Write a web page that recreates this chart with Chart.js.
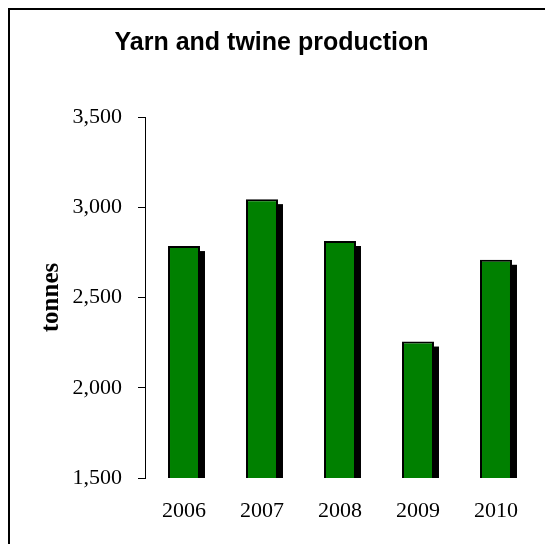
<!DOCTYPE html>
<html>
<head>
<meta charset="utf-8">
<script src="https://cdn.jsdelivr.net/npm/chart.js@4"></script>
<style>
  html, body { margin: 0; padding: 0; background: #fff; overflow: hidden; }
  #frame { position: absolute; left: 8px; top: 8px; width: 600px; height: 600px;
           border-left: 2px solid #000; border-top: 2px solid #000; }
  #wrap { position: absolute; left: 0; top: 0; width: 545px; height: 544px; }
</style>
</head>
<body>
<div id="frame"></div>
<div id="wrap"><canvas id="chart" width="545" height="544"></canvas></div>
<script>
const years = ['2006', '2007', '2008', '2009', '2010'];
const production = [2785, 3045, 2813, 2256, 2709];
const yTicks = [1500, 2000, 2500, 3000, 3500];

// black drop shadow behind each bar, taken from the bar elements themselves
const barShadow = {
  id: 'barShadow',
  beforeDatasetsDraw(chart) {
    const ctx = chart.ctx;
    const area = chart.chartArea;
    ctx.save();
    ctx.beginPath();
    ctx.rect(area.left, area.top, area.right - area.left, area.bottom - area.top);
    ctx.clip();
    ctx.fillStyle = '#000';
    chart.getDatasetMeta(0).data.forEach(bar => {
      const p = bar.getProps(['x', 'y', 'base', 'width'], true);
      ctx.fillRect(p.x - p.width / 2 + 5, p.y + 5, p.width, p.base - p.y);
    });
    ctx.restore();
  }
};

new Chart(document.getElementById('chart').getContext('2d'), {
  type: 'bar',
  data: {
    labels: years,
    datasets: [{
      label: 'Yarn and twine',
      data: production,
      backgroundColor: '#008000',
      borderColor: '#000',
      borderWidth: 2,
      borderSkipped: false,
      categoryPercentage: 1,
      barPercentage: 0.41
    }]
  },
  options: {
    responsive: false,
    animation: false,
    layout: { padding: { left: 8, right: 10, top: 0, bottom: 0 } },
    plugins: {
      legend: { display: false },
      tooltip: { enabled: false },
      title: {
        display: true,
        text: 'Yarn and twine production',
        color: '#000',
        font: { family: 'Liberation Sans', size: 25, weight: 'bold', lineHeight: 1.2 },
        padding: { top: 28, bottom: 59 }
      }
    },
    scales: {
      x: {
        grid: { display: false },
        border: { display: false },
        ticks: {
          color: '#000',
          padding: 12,
          font: { family: 'Liberation Serif', size: 22 }
        },
        afterFit(scale) { scale.height = 66; }
      },
      y: {
        min: 1500,
        max: 3500,
        afterBuildTicks(scale) { scale.ticks = yTicks.map(v => ({ value: v })); },
        grid: { drawOnChartArea: false, drawTicks: true, tickLength: 7, color: '#000' },
        border: { display: true, color: '#000', width: 1 },
        ticks: {
          color: '#000',
          padding: 16,
          font: { family: 'Liberation Serif', size: 22 },
          callback: v => v.toLocaleString('en-US')
        },
        title: {
          display: true,
          text: 'tonnes',
          color: '#000',
          font: { family: 'Liberation Serif', size: 25, weight: 'bold', lineHeight: 1.2 },
          padding: { top: 29, bottom: 0 }
        },
        afterFit(scale) { scale.width = 137; }
      }
    }
  },
  plugins: [barShadow]
});
</script>
</body>
</html>
